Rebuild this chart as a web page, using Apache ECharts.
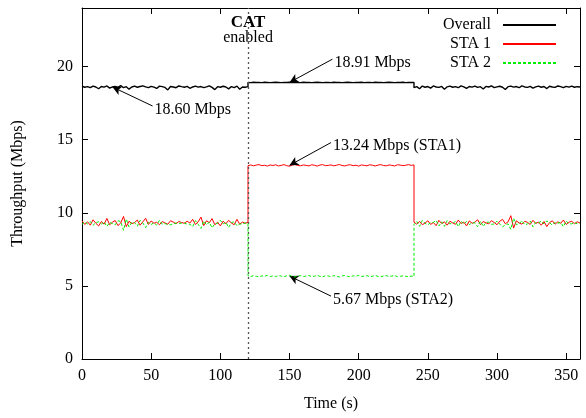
<!DOCTYPE html>
<html>
<head>
<meta charset="utf-8">
<script src="https://cdn.jsdelivr.net/npm/echarts@6/dist/echarts.min.js"></script>
<style>html,body{margin:0;padding:0;background:#fff}#c{width:586px;height:418px}</style>
</head>
<body>
<div id="c"></div>
<script>
// time step (s) between samples; each segment has 61 samples over 120 s
const STEP = 2;
const segStarts = [0, 120, 240];
// Overall throughput, segments: before CAT (0-120), CAT on (120-240), after (240-360)
const overallA = [18.65,18.58,18.62,18.55,18.66,18.60,18.48,18.63,18.59,18.67,
18.52,18.61,18.64,18.57,18.70,18.55,18.62,18.45,18.60,18.66,
18.58,18.63,18.68,18.61,18.55,18.64,18.59,18.50,18.66,18.62,
18.57,18.40,18.63,18.60,18.55,18.67,18.62,18.58,18.64,18.51,
18.60,18.66,18.59,18.63,18.56,18.61,18.68,18.57,18.42,18.62,
18.58,18.65,18.60,18.47,18.63,18.56,18.66,18.44,18.60,18.58,18.62];
const overallB = [18.91,18.90,18.92,18.91,18.91,18.90,18.92,18.91,18.90,18.91,
18.92,18.91,18.90,18.91,18.91,18.92,18.90,18.91,18.91,18.90,
18.92,18.91,18.91,18.90,18.91,18.92,18.91,18.90,18.91,18.91,
18.90,18.92,18.91,18.91,18.90,18.91,18.92,18.91,18.90,18.91,
18.91,18.92,18.90,18.91,18.91,18.90,18.92,18.91,18.91,18.90,
18.91,18.92,18.91,18.90,18.91,18.91,18.92,18.90,18.91,18.91,18.91];
const overallC = [18.55,18.62,18.48,18.66,18.58,18.63,18.52,18.67,18.60,18.57,
18.64,18.45,18.61,18.66,18.58,18.62,18.55,18.68,18.60,18.50,
18.63,18.59,18.66,18.57,18.62,18.46,18.64,18.60,18.67,18.56,
18.61,18.65,18.58,18.43,18.62,18.66,18.59,18.63,18.55,18.68,
18.60,18.57,18.64,18.52,18.61,18.66,18.58,18.63,18.49,18.65,
18.60,18.57,18.67,18.62,18.55,18.64,18.59,18.66,18.58,18.62,18.60];
// STA 1
const sta1A = [9.45,9.20,9.38,9.15,9.52,9.28,9.10,9.40,9.22,9.61,
9.18,9.35,9.47,9.12,9.30,9.75,9.05,9.42,9.25,9.33,
9.50,9.15,9.38,9.62,9.20,9.44,9.28,9.35,9.18,9.40,
9.30,9.22,9.45,9.36,9.25,9.40,9.33,9.28,9.42,9.30,
9.55,9.20,9.38,9.70,9.12,9.45,9.32,9.60,9.18,9.35,
9.10,9.42,9.25,9.48,9.30,9.18,9.55,9.22,9.36,9.28,9.35];
const sta1B = [13.22,13.27,13.21,13.26,13.29,13.22,13.25,13.19,13.27,13.23,
13.28,13.20,13.24,13.29,13.22,13.18,13.26,13.30,13.23,13.21,
13.27,13.24,13.20,13.28,13.25,13.19,13.26,13.29,13.22,13.24,
13.27,13.21,13.25,13.30,13.23,13.20,13.26,13.28,13.22,13.25,
13.19,13.27,13.24,13.21,13.28,13.25,13.20,13.26,13.29,13.23,
13.21,13.27,13.24,13.20,13.28,13.26,13.22,13.25,13.29,13.24,13.27];
const sta1C = [9.35,9.22,9.41,9.18,9.30,9.45,9.20,9.33,9.12,9.48,
9.26,9.38,9.15,9.42,9.30,9.21,9.50,9.27,9.36,9.10,
9.44,9.28,9.35,9.52,9.19,9.40,9.31,9.24,9.46,9.33,
9.18,9.42,9.55,9.25,9.38,9.80,8.95,9.45,9.30,9.22,
9.41,9.35,9.20,9.48,9.27,9.36,9.15,9.40,9.05,9.33,
9.45,9.22,9.38,9.28,9.50,9.20,9.35,9.42,9.25,9.38,9.30];
// STA 2
const sta2A = [9.20,9.38,9.24,9.40,9.14,9.32,9.38,9.23,9.37,9.06,
9.34,9.26,9.17,9.45,9.40,8.80,9.57,9.03,9.35,9.33,
9.08,9.48,9.30,8.99,9.35,9.20,9.31,9.15,9.48,9.22,
9.27,9.18,9.18,9.24,9.30,9.27,9.29,9.30,9.22,9.21,
9.05,9.46,9.21,8.93,9.44,9.16,9.36,8.97,9.24,9.27,
9.48,9.23,9.35,8.99,9.33,9.38,9.11,9.22,9.24,9.30,9.27];
const sta2B = [5.69,5.63,5.71,5.65,5.62,5.68,5.66,5.72,5.64,5.68,
5.63,5.71,5.67,5.62,5.69,5.73,5.65,5.61,5.68,5.70,
5.64,5.67,5.71,5.63,5.66,5.72,5.65,5.62,5.69,5.67,
5.64,5.70,5.66,5.61,5.68,5.71,5.65,5.63,5.69,5.66,
5.72,5.64,5.67,5.70,5.63,5.66,5.71,5.65,5.62,5.68,
5.70,5.64,5.67,5.71,5.63,5.65,5.69,5.66,5.62,5.67,5.64];
const sta2C = [9.20,9.40,9.07,9.48,9.28,9.18,9.32,9.34,9.48,9.09,
9.38,9.07,9.46,9.24,9.28,9.41,9.05,9.41,9.24,9.40,
9.19,9.31,9.31,9.05,9.43,9.06,9.33,9.36,9.21,9.23,
9.43,9.23,9.03,9.18,9.24,8.86,9.63,9.18,9.25,9.46,
9.19,9.22,9.44,9.04,9.34,9.30,9.43,9.23,9.44,9.32,
9.15,9.35,9.29,9.34,9.05,9.44,9.24,9.24,9.33,9.24,9.30];

const seriesNames = ['Overall', 'STA 1', 'STA 2'];
const xTicks = [0, 50, 100, 150, 200, 250, 300, 350];
const yTicks = [0, 5, 10, 15, 20];
const catTime = 120;
// annotations: [label text, point time, point value, text time, text value]
const notes = [
  ['18.60 Mbps', 22, 18.60, 51, 17.3],
  ['18.91 Mbps', 150, 18.91, 181, 20.5],
  ['13.24 Mbps (STA1)', 150, 13.24, 180, 14.8],
  ['5.67 Mbps (STA2)', 150, 5.67, 180, 4.3]
];

const segPairs = segs => segs.flatMap((arr, k) => arr.map((v, i) => [segStarts[k] + i * STEP, v]));

const FONT = 'Liberation Serif';
const chart = echarts.init(document.getElementById('c'), null, {renderer: 'canvas'});

const axisCommon = {
  axisLine: {show: true, onZero: false, lineStyle: {color: '#000', width: 1}},
  axisTick: {show: true, inside: true, length: 6, lineStyle: {color: '#000'}},
  splitLine: {show: false}
};

chart.setOption({
  animation: false,
  backgroundColor: '#fff',
  grid: {left: 82, right: 6, top: 8, bottom: 59, containLabel: false},
  legend: {
    orient: 'vertical', right: 24, top: 12, align: 'right',
    itemWidth: 53, itemHeight: 14, itemGap: 3,
    itemStyle: {opacity: 0},
    textStyle: {fontFamily: FONT, fontSize: 16, color: '#000', padding: [0, 7, 0, 0]},
    data: seriesNames
  },
  xAxis: [
    Object.assign({}, axisCommon, {
      type: 'value', min: 0, max: 360, interval: 50, position: 'bottom',
      name: 'Time (s)', nameLocation: 'middle', nameGap: 37,
      nameTextStyle: {fontFamily: FONT, fontSize: 16, color: '#000'},
      axisLabel: {fontFamily: FONT, fontSize: 16, color: '#000', margin: 9, showMaxLabel: false,
        formatter: v => xTicks.indexOf(v) >= 0 ? String(v) : ''}
    }),
    Object.assign({}, axisCommon, {
      type: 'value', min: 0, max: 360, interval: 50, position: 'top',
      axisLabel: {show: false}
    })
  ],
  yAxis: [
    Object.assign({}, axisCommon, {
      type: 'value', min: 0, max: 24, interval: 5, position: 'left',
      name: 'Throughput (Mbps)', nameLocation: 'middle', nameGap: 56,
      nameTextStyle: {fontFamily: FONT, fontSize: 16, color: '#000'},
      axisLabel: {fontFamily: FONT, fontSize: 16, color: '#000', margin: 9, showMaxLabel: false,
        formatter: v => yTicks.indexOf(v) >= 0 ? String(v) : ''}
    }),
    Object.assign({}, axisCommon, {
      type: 'value', min: 0, max: 24, interval: 5, position: 'right',
      axisLabel: {show: false}
    })
  ],
  series: [
    {
      name: 'Overall', type: 'line', data: segPairs([overallA, overallB, overallC]),
      showSymbol: false, symbol: 'none',
      lineStyle: {color: '#000', width: 1.4}, itemStyle: {color: '#000'},
      z: 3,
      markLine: {
        silent: true, symbol: 'none', animation: false,
        lineStyle: {color: '#555', type: [2, 3], width: 1.3},
        label: {show: false},
        data: [{xAxis: catTime}]
      },
      markPoint: {
        silent: true, symbol: 'circle', symbolSize: 0,
        label: {
          show: true, position: 'inside', color: '#000', fontFamily: FONT, fontSize: 16,
          formatter: '{a|CAT}\n{b|enabled}',
          rich: {
            a: {fontFamily: FONT, fontSize: 17, fontWeight: 'bold', color: '#000', lineHeight: 15},
            b: {fontFamily: FONT, fontSize: 16, color: '#000', lineHeight: 15}
          }
        },
        data: [{coord: [catTime, 22.5]}]
      }
    },
    {
      name: 'STA 1', type: 'line', data: segPairs([sta1A, sta1B, sta1C]),
      showSymbol: false, symbol: 'none',
      lineStyle: {color: '#ff0000', width: 1}, itemStyle: {color: '#ff0000'}, z: 4
    },
    {
      name: 'STA 2', type: 'line', data: segPairs([sta2A, sta2B, sta2C]),
      showSymbol: false, symbol: 'none',
      lineStyle: {color: '#00ee00', width: 1, type: [3, 2]}, itemStyle: {color: '#00ee00'}, z: 5
    },
    {
      name: 'notes', type: 'line', data: [], z: 6,
      markLine: {
        silent: true, symbol: ['none', 'arrow'], symbolSize: [7, 9], animation: false,
        lineStyle: {color: '#000', type: 'solid', width: 1},
        label: {show: false},
        data: notes.map(n => [{coord: [n[3], n[4]]}, {coord: [n[1], n[2]]}])
      },
      markPoint: {
        silent: true, symbol: 'circle', symbolSize: 0,
        label: {show: true, position: 'right', distance: 2, color: '#000', fontFamily: FONT, fontSize: 16,
          formatter: p => p.name},
        data: notes.map(n => ({name: n[0], coord: [n[3], n[4] - 0.25]}))
      }
    }
  ]
});
</script>
</body>
</html>
